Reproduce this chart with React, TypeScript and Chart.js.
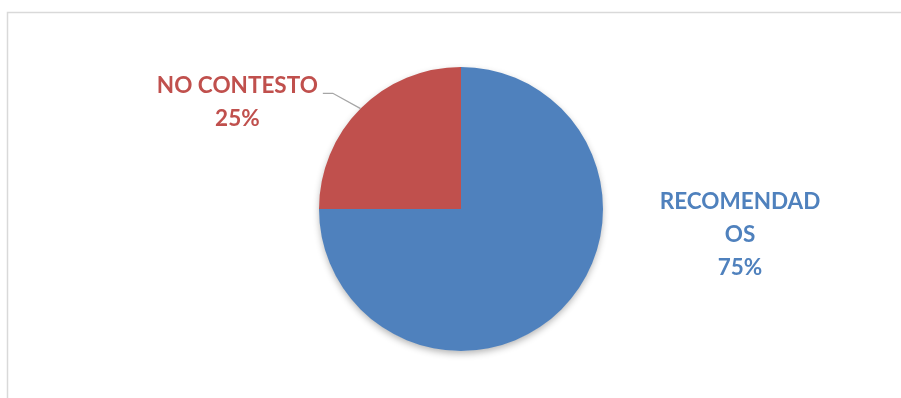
import React, { useEffect, useRef } from "react";
import { Chart, registerables } from "chart.js";

Chart.register(...registerables);

const categories = ["RECOMENDADOS", "NO CONTESTO"];
const values = [75, 25];
const labelLines = [["RECOMENDAD", "OS", "75%"], ["NO CONTESTO", "25%"]];
const colors = ["#4F81BD", "#C0504D"];

const FONT = "bold 22.5px Lato";

const decorPlugin = {
  id: "decor",
  beforeDraw(chart: any) {
    const ctx = chart.ctx;
    ctx.save();
    ctx.strokeStyle = "#d9d9d9";
    ctx.lineWidth = 1.5;
    ctx.beginPath();
    ctx.moveTo(7.5, chart.height + 2);
    ctx.lineTo(7.5, 12.5);
    ctx.lineTo(chart.width + 2, 12.5);
    ctx.stroke();
    ctx.restore();
  },
  beforeDatasetDraw(chart: any) {
    const ctx = chart.ctx;
    const arc = chart.getDatasetMeta(0).data[0];
    if (!arc) return;
    const { x, y, outerRadius } = arc.getProps(["x", "y", "outerRadius"], true);
    ctx.save();
    ctx.shadowColor = "rgba(0,0,0,0.3)";
    ctx.shadowBlur = 7;
    ctx.shadowOffsetY = 3;
    ctx.fillStyle = "#ffffff";
    ctx.beginPath();
    ctx.arc(x, y, outerRadius - 0.5, 0, Math.PI * 2);
    ctx.fill();
    ctx.restore();
  },
  afterDraw(chart: any) {
    const ctx = chart.ctx;
    const meta = chart.getDatasetMeta(0);
    ctx.save();
    ctx.font = FONT;
    ctx.textAlign = "center";
    ctx.textBaseline = "middle";
    meta.data.forEach((arc: any, i: number) => {
      const { x, y, outerRadius, startAngle, endAngle } = arc.getProps(
        ["x", "y", "outerRadius", "startAngle", "endAngle"],
        true
      );
      const mid = (startAngle + endAngle) / 2;
      const lines = labelLines[i];
      const lh = 33;
      let lx: number, ly: number;
      if (i === 0) {
        lx = x + outerRadius * 1.965;
        ly = y + outerRadius * 0.18;
      } else {
        lx = x - outerRadius * 1.575;
        ly = y - outerRadius * 0.755;
        const ex = x + Math.cos(mid) * outerRadius;
        const ey = y + Math.sin(mid) * outerRadius;
        const w = ctx.measureText(lines[0]).width;
        const sx = lx + w / 2 + 5;
        const sy = ly - lh / 2 + 8;
        ctx.strokeStyle = "#a6a6a6";
        ctx.lineWidth = 1.3;
        ctx.beginPath();
        ctx.moveTo(sx, sy);
        ctx.lineTo(sx + 10, sy);
        ctx.lineTo(ex, ey);
        ctx.stroke();
      }
      ctx.fillStyle = colors[i];
      const top = ly - ((lines.length - 1) * lh) / 2;
      lines.forEach((t, k) => ctx.fillText(t, lx, top + k * lh));
    });
    ctx.restore();
  },
};

export default function App() {
  const ref = useRef<HTMLCanvasElement>(null);
  useEffect(() => {
    document.body.style.margin = "0";
    const chart = new Chart(ref.current!, {
      type: "pie",
      data: {
        labels: categories,
        datasets: [
          {
            data: values,
            backgroundColor: colors,
            borderWidth: 0,
          },
        ],
      },
      options: {
        animation: false,
        responsive: false,
        layout: { padding: { left: 319, right: 298, top: 67, bottom: 47 } },
        plugins: {
          legend: { display: false },
          tooltip: { enabled: false },
        },
      },
      plugins: [decorPlugin],
    });
    return () => chart.destroy();
  }, []);
  return (
    <div style={{ width: 901, height: 398, background: "#fff" }}>
      <canvas ref={ref} width={901} height={398} style={{ display: "block" }} />
    </div>
  );
}
